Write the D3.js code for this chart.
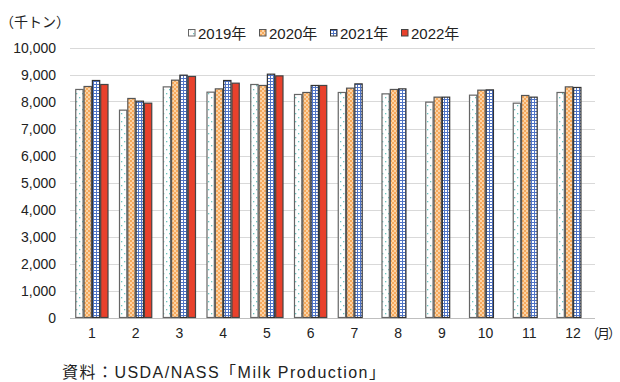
<!DOCTYPE html>
<html><head><meta charset="utf-8">
<script src="https://cdn.jsdelivr.net/npm/d3@7"></script>
<style>
body{margin:0;background:#fff;}
svg{display:block;font-family:"Liberation Sans","Noto Sans CJK JP",sans-serif;}
</style></head><body>
<svg id="c" width="620" height="382"></svg>
<script>
const months = ["1","2","3","4","5","6","7","8","9","10","11","12"];
const seriesNames = ["2019年","2020年","2021年","2022年"];
const v2019 = [8446,7680,8542,8346,8630,8260,8334,8283,7976,8235,7938,8334];
const v2020 = [8556,8112,8790,8468,8594,8334,8494,8446,8161,8420,8223,8542];
const v2021 = [8778,8012,8975,8778,9012,8594,8653,8468,8161,8431,8161,8520];
const v2022 = [8630,7938,8927,8679,8949,8594,null,null,null,null,null,null];
const yTicks = [0,1000,2000,3000,4000,5000,6000,7000,8000,9000,10000];
const values = [v2019,v2020,v2021,v2022];

(function(){
const svg = d3.select("#c");
const defs = svg.append("defs");
const p1 = defs.append("pattern").attr("id","p0").attr("patternUnits","userSpaceOnUse").attr("width",6).attr("height",8);
p1.append("rect").attr("width",6).attr("height",8).attr("fill","#fff");
p1.append("rect").attr("x",1).attr("y",1).attr("width",1.3).attr("height",1.3).attr("fill","#6cc5c0");
p1.append("rect").attr("x",4).attr("y",5).attr("width",1.3).attr("height",1.3).attr("fill","#6cc5c0");
const p2 = defs.append("pattern").attr("id","p1").attr("patternUnits","userSpaceOnUse").attr("width",4).attr("height",4);
p2.append("rect").attr("width",4).attr("height",4).attr("fill","#f6a95c");
p2.append("rect").attr("x",0).attr("y",0).attr("width",2).attr("height",2).attr("fill","#fcd3a5");
p2.append("rect").attr("x",2).attr("y",2).attr("width",2).attr("height",2).attr("fill","#fcd3a5");
const p3 = defs.append("pattern").attr("id","p2").attr("patternUnits","userSpaceOnUse").attr("width",3).attr("height",3);
p3.append("rect").attr("width",3).attr("height",3).attr("fill","#fff");
p3.append("rect").attr("x",0).attr("y",0).attr("width",3).attr("height",1).attr("fill","#4f74c6");
p3.append("rect").attr("x",0).attr("y",0).attr("width",1).attr("height",3).attr("fill","#4f74c6");
const fills = ["url(#p0)","url(#p1)","url(#p2)","#e8412c"];
const strokes = ["#666","#555","#333","#444"];

const pl = 70, pr = 595, pt = 47.5, pb = 317.5;
const y = d3.scaleLinear().domain([0,10000]).range([pb, pt]);
const x0 = d3.scaleBand().domain(months).range([pl,pr]).paddingInner(0.24).paddingOuter(0.12);
const x1 = d3.scaleBand().domain(d3.range(4)).range([0, x0.bandwidth()]);

svg.append("g").selectAll("line").data(yTicks).join("line")
  .attr("x1",pl).attr("x2",pr)
  .attr("y1",d=>Math.round(y(d))+0.5).attr("y2",d=>Math.round(y(d))+0.5)
  .attr("stroke",d=>d===0?"#bfbfbf":"#d9d9d9").attr("stroke-width",1.2);

const fmt = d3.format(",");
svg.append("g").selectAll("text").data(yTicks).join("text")
  .attr("x",56).attr("y",d=>y(d)).attr("dy","0.36em").attr("text-anchor","end")
  .attr("font-size",14).attr("fill","#222").text(d=>fmt(d));

const g = svg.append("g");
months.forEach((m,i)=>{
  values.forEach((arr,s)=>{
    const v = arr[i];
    if(v==null) return;
    g.append("rect")
      .attr("x",x0(m)+x1(s)+0.5).attr("y",y(v))
      .attr("width",x1.bandwidth()-1).attr("height",y(0)-y(v))
      .attr("fill",fills[s]).attr("stroke",strokes[s]).attr("stroke-width",1.2);
  });
});

svg.append("g").selectAll("text").data(months).join("text")
  .attr("x",d=>x0(d)+x0.bandwidth()/2).attr("y",333).attr("dy","0.36em")
  .attr("text-anchor","middle").attr("font-size",14).attr("fill","#222").text(d=>d);
svg.append("text").attr("x",586).attr("y",333).attr("dy","0.36em").attr("font-size",13)
  .attr("letter-spacing","-2px").attr("fill","#222").text("（月）");

svg.append("text").attr("x",0).attr("y",22).attr("dy","0.36em").attr("font-size",14).attr("fill","#222").text("（千トン）");

const legX = [188,259,330,401];
const leg = svg.append("g");
seriesNames.forEach((n,s)=>{
  leg.append("rect").attr("x",legX[s]+0.5).attr("y",29.5).attr("width",6.5).attr("height",6.5)
    .attr("fill",fills[s]).attr("stroke",strokes[s]).attr("stroke-width",1);
  leg.append("text").attr("x",legX[s]+10).attr("y",33.3).attr("dy","0.36em")
    .attr("font-size",15).attr("fill","#222").text(n);
});

svg.append("text").attr("x",62).attr("y",372).attr("dy","0.36em").attr("font-size",16).attr("fill","#222")
  .attr("textLength",323).attr("lengthAdjust","spacing")
  .text("資料：USDA/NASS「Milk Production」");
})();
</script>
</body></html>
